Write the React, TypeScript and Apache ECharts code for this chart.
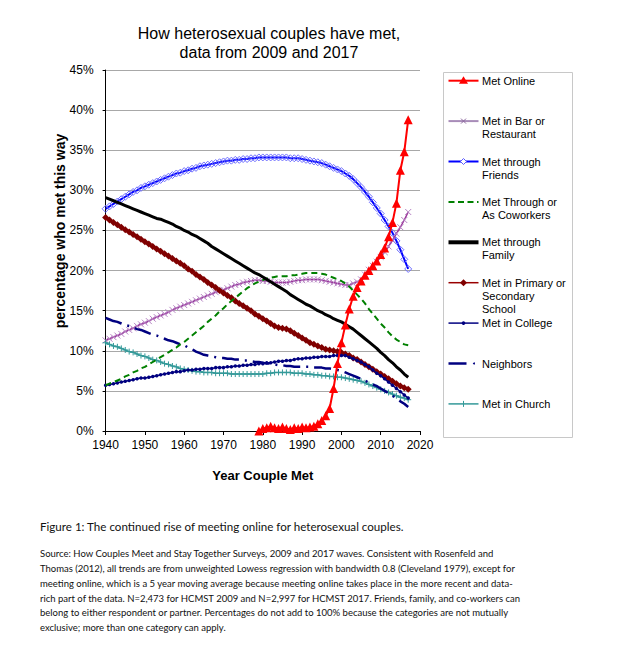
import React, { useEffect, useRef } from "react";
import * as echarts from "echarts";

// ---------- DATA ----------
const YEARS = Array.from({ length: 78 }, (_, i) => 1940 + i); // 1940..2017
const ONLINE_YEARS = Array.from({ length: 39 }, (_, i) => 1979 + i); // 1979..2017

const X_TICKS = [1940, 1950, 1960, 1970, 1980, 1990, 2000, 2010, 2020];
const Y_TICKS = [0, 5, 10, 15, 20, 25, 30, 35, 40, 45];

const onlineVals = [
  0.0, 0.3, 0.4, 0.6, 0.4, 0.3, 0.5, 0.3, 0.2, 0.4, 0.3,
  0.5, 0.4, 0.5, 0.6, 0.9, 1.3, 1.9, 2.8, 5.3, 8.4,
  11.0, 13.2, 15.2, 16.8, 17.9, 18.7, 19.4, 20.0, 20.6, 21.2,
  22.0, 22.8, 24.2, 26.0, 28.4, 32.5, 34.8, 38.8,
];

const barVals = [
  11.3, 11.5, 11.7, 11.9, 12.1, 12.4, 12.6, 12.8, 13.1, 13.3,
  13.5, 13.7, 14.0, 14.2, 14.4, 14.6, 14.8, 15.1, 15.3, 15.5,
  15.7, 15.9, 16.1, 16.3, 16.5, 16.7, 16.9, 17.1, 17.3, 17.5,
  17.6, 17.8, 18.0, 18.2, 18.3, 18.5, 18.6, 18.7, 18.8, 18.8,
  18.7, 18.7, 18.6, 18.5, 18.5, 18.5, 18.5, 18.6, 18.7, 18.8,
  18.8, 18.9, 18.9, 18.9, 18.9, 18.8, 18.7, 18.6, 18.5, 18.4,
  18.3, 18.2, 18.2, 18.4, 18.6, 18.9, 19.5, 20.1, 20.6, 21.1,
  21.7, 22.3, 23.0, 23.8, 24.6, 25.4, 26.3, 27.3,
];

const friendsVals = [
  27.7, 28.0, 28.3, 28.6, 28.9, 29.2, 29.5, 29.8, 30.0, 30.3,
  30.5, 30.7, 30.9, 31.1, 31.3, 31.5, 31.7, 31.9, 32.1, 32.2,
  32.4, 32.5, 32.7, 32.8, 33.0, 33.1, 33.2, 33.3, 33.4, 33.5,
  33.6, 33.7, 33.7, 33.8, 33.8, 33.9, 33.9, 34.0, 34.0, 34.1,
  34.1, 34.1, 34.1, 34.1, 34.1, 34.1, 34.1, 34.0, 34.0, 34.0,
  33.9, 33.8, 33.7, 33.6, 33.5, 33.4, 33.2, 33.0, 32.8, 32.6,
  32.4, 32.1, 31.8, 31.4, 30.9, 30.4, 29.8, 29.2, 28.5, 27.8,
  27.1, 26.3, 25.5, 24.7, 23.7, 22.6, 21.4, 20.2,
];

const coworkersVals = [
  5.7, 5.9, 6.1, 6.3, 6.5, 6.8, 7.0, 7.3, 7.5, 7.8,
  8.0, 8.3, 8.6, 8.9, 9.2, 9.5, 9.8, 10.1, 10.4, 10.8,
  11.1, 11.5, 11.9, 12.3, 12.7, 13.1, 13.6, 14.0, 14.4, 14.9,
  15.3, 15.8, 16.2, 16.6, 17.0, 17.4, 17.8, 18.1, 18.4, 18.6,
  18.8, 19.0, 19.1, 19.2, 19.3, 19.3, 19.3, 19.4, 19.4, 19.5,
  19.6, 19.7, 19.7, 19.7, 19.7, 19.6, 19.5, 19.3, 19.1, 18.9,
  18.7, 18.4, 18.0, 17.5, 17.0, 16.5, 15.9, 15.2, 14.6, 14.0,
  13.4, 12.9, 12.3, 11.8, 11.4, 11.1, 10.8, 10.7,
];

const familyVals = [
  29.1, 28.9, 28.7, 28.5, 28.3, 28.1, 27.9, 27.7, 27.5, 27.3,
  27.1, 26.9, 26.7, 26.5, 26.4, 26.2, 26.0, 25.8, 25.5, 25.3,
  25.0, 24.8, 24.5, 24.3, 24.0, 23.7, 23.4, 23.0, 22.7, 22.4,
  22.1, 21.8, 21.5, 21.2, 20.9, 20.6, 20.3, 20.0, 19.7, 19.5,
  19.2, 18.9, 18.6, 18.3, 18.0, 17.7, 17.4, 17.0, 16.7, 16.4,
  16.1, 15.8, 15.6, 15.3, 15.0, 14.8, 14.5, 14.3, 14.0, 13.8,
  13.6, 13.3, 13.0, 12.7, 12.3, 11.9, 11.5, 11.1, 10.7, 10.3,
  9.8, 9.4, 8.9, 8.5, 8.0, 7.6, 7.1, 6.7,
];

const schoolVals = [
  26.6, 26.3, 26.0, 25.7, 25.4, 25.1, 24.8, 24.5, 24.2, 23.9,
  23.6, 23.3, 23.0, 22.7, 22.4, 22.1, 21.8, 21.5, 21.2, 20.9,
  20.6, 20.2, 19.9, 19.5, 19.2, 18.9, 18.5, 18.2, 17.9, 17.5,
  17.2, 16.9, 16.6, 16.2, 15.9, 15.6, 15.3, 15.0, 14.6, 14.3,
  14.0, 13.7, 13.4, 13.1, 12.9, 12.8, 12.7, 12.5, 12.2, 11.9,
  11.6, 11.3, 11.0, 10.8, 10.6, 10.4, 10.2, 10.1, 10.0, 9.9,
  9.8, 9.6, 9.4, 9.1, 8.9, 8.6, 8.3, 8.0, 7.7, 7.4,
  7.1, 6.8, 6.5, 6.2, 5.9, 5.6, 5.4, 5.2,
];

const collegeVals = [
  5.7, 5.8, 5.9, 6.0, 6.1, 6.2, 6.3, 6.4, 6.5, 6.6,
  6.6, 6.7, 6.8, 6.9, 7.0, 7.1, 7.2, 7.3, 7.4, 7.4,
  7.5, 7.6, 7.6, 7.7, 7.7, 7.8, 7.8, 7.8, 7.9, 7.9,
  7.9, 8.0, 8.0, 8.1, 8.1, 8.2, 8.2, 8.3, 8.3, 8.4,
  8.4, 8.5, 8.5, 8.6, 8.7, 8.7, 8.8, 8.8, 8.9, 9.0,
  9.0, 9.1, 9.1, 9.2, 9.2, 9.3, 9.3, 9.3, 9.4, 9.4,
  9.4, 9.4, 9.2, 9.0, 8.8, 8.6, 8.3, 8.0, 7.6, 7.2,
  6.9, 6.5, 6.1, 5.7, 5.3, 4.9, 4.5, 4.1,
];

const neighborsVals = [
  14.1, 13.9, 13.7, 13.6, 13.4, 13.2, 13.1, 12.9, 12.7, 12.6,
  12.4, 12.2, 12.0, 11.9, 11.7, 11.5, 11.3, 11.2, 11.0, 10.8,
  10.7, 10.4, 10.2, 9.9, 9.7, 9.5, 9.4, 9.3, 9.2, 9.1,
  9.1, 9.0, 9.0, 8.9, 8.9, 8.8, 8.8, 8.7, 8.6, 8.6,
  8.5, 8.4, 8.4, 8.3, 8.2, 8.2, 8.1, 8.1, 8.0, 8.0,
  8.0, 8.0, 8.0, 7.9, 7.9, 7.9, 7.8, 7.8, 7.7, 7.6,
  7.5, 7.3, 7.1, 6.9, 6.7, 6.5, 6.3, 6.0, 5.8, 5.6,
  5.3, 5.0, 4.7, 4.4, 4.1, 3.7, 3.4, 3.0,
];

const churchVals = [
  11.0, 10.8, 10.6, 10.5, 10.3, 10.1, 9.9, 9.8, 9.6, 9.4,
  9.3, 9.1, 8.9, 8.8, 8.6, 8.4, 8.3, 8.1, 8.0, 7.8,
  7.7, 7.6, 7.5, 7.4, 7.4, 7.3, 7.3, 7.3, 7.2, 7.2,
  7.2, 7.2, 7.1, 7.1, 7.1, 7.1, 7.1, 7.1, 7.1, 7.1,
  7.1, 7.2, 7.2, 7.3, 7.3, 7.3, 7.3, 7.3, 7.2, 7.2,
  7.2, 7.1, 7.1, 7.0, 7.0, 6.9, 6.9, 6.8, 6.8, 6.7,
  6.7, 6.6, 6.5, 6.4, 6.3, 6.2, 6.0, 5.8, 5.6, 5.4,
  5.2, 5.0, 4.8, 4.6, 4.4, 4.2, 4.1, 3.9,
];

const SERIES_NAMES = [
  "Met Online",
  "Met in Bar or Restaurant",
  "Met through Friends",
  "Met Through or As Coworkers",
  "Met through Family",
  "Met in Primary or Secondary School",
  "Met in College",
  "Neighbors",
  "Met in Church",
];

const LEGEND_LABELS = [
  ["Met Online"],
  ["Met in Bar or", "Restaurant"],
  ["Met through", "Friends"],
  ["Met Through or", "As Coworkers"],
  ["Met through", "Family"],
  ["Met in Primary or", "Secondary", "School"],
  ["Met in College"],
  ["Neighbors"],
  ["Met in Church"],
];

const TITLE_LINES = ["How heterosexual couples have met,", "data from 2009 and 2017"];
const X_NAME = "Year Couple Met";
const Y_NAME = "percentage who met this way";
const CAPTION = "Figure 1: The continued rise of meeting online for heterosexual couples.";
const SOURCE_LINES = [
  "Source: How Couples Meet and Stay Together Surveys, 2009 and 2017 waves. Consistent with Rosenfeld and",
  "Thomas (2012), all trends are from unweighted Lowess regression with bandwidth 0.8 (Cleveland 1979), except for",
  "meeting online, which is a 5 year moving average because meeting online takes place in the more recent and data-",
  "rich part of the data. N=2,473 for HCMST 2009 and N=2,997 for HCMST 2017. Friends, family, and co-workers can",
  "belong to either respondent or partner. Percentages do not add to 100% because the categories are not mutually",
  "exclusive; more than one category can apply.",
];

// ---------- helpers ----------
const pairs = (xs: number[], ys: number[]) => ys.map((y, i) => [xs[i], y]);

const FONT = "'Liberation Sans', Arial, sans-serif";
const CAP_FONT = "Lato, 'Open Sans', sans-serif";

const X_SYMBOL = "path://M0,0L10,10M10,0L0,10";
const PLUS_SYMBOL = "path://M5,0L5,10M0,5L10,5";

function buildOption() {
  const base = {
    type: "line",
    smooth: false,
    showAllSymbol: true,
    silent: true,
    emphasis: { disabled: true },
  };

  const series: any[] = [
    {
      ...base,
      name: SERIES_NAMES[2],
      data: pairs(YEARS, friendsVals),
      symbol: "diamond",
      symbolSize: 7,
      lineStyle: { color: "#0000ff", width: 2 },
      itemStyle: { color: "rgba(255,255,255,0)", borderColor: "#6e6eff", borderWidth: 1 },
      z: 2,
    },
    {
      ...base,
      name: SERIES_NAMES[1],
      data: pairs(YEARS, barVals),
      symbol: X_SYMBOL,
      symbolSize: 6,
      lineStyle: { color: "#993399", width: 1.5 },
      itemStyle: { color: "rgba(0,0,0,0)", borderColor: "#b784c4", borderWidth: 1 },
      z: 3,
    },
    {
      ...base,
      name: SERIES_NAMES[5],
      data: pairs(YEARS, schoolVals),
      symbol: "diamond",
      symbolSize: 7,
      lineStyle: { color: "#800000", width: 2 },
      itemStyle: { color: "#800000", borderWidth: 0 },
      z: 4,
    },
    {
      ...base,
      name: SERIES_NAMES[8],
      data: pairs(YEARS, churchVals),
      symbol: PLUS_SYMBOL,
      symbolSize: 6,
      lineStyle: { color: "#339999", width: 1.5 },
      itemStyle: { color: "rgba(0,0,0,0)", borderColor: "#339999", borderWidth: 1 },
      z: 5,
    },
    {
      ...base,
      name: SERIES_NAMES[7],
      data: pairs(YEARS, neighborsVals),
      symbol: "none",
      lineStyle: { color: "#000080", width: 2.5, type: [17, 6, 2, 6] },
      z: 6,
    },
    {
      ...base,
      name: SERIES_NAMES[6],
      data: pairs(YEARS, collegeVals),
      symbol: "circle",
      symbolSize: 3.5,
      lineStyle: { color: "#000080", width: 1.5 },
      itemStyle: { color: "#000080", borderWidth: 0 },
      z: 7,
    },
    {
      ...base,
      name: SERIES_NAMES[3],
      data: pairs(YEARS, coworkersVals),
      symbol: "none",
      lineStyle: { color: "#008000", width: 2, type: [6, 4] },
      z: 8,
    },
    {
      ...base,
      name: SERIES_NAMES[4],
      data: pairs(YEARS, familyVals),
      symbol: "none",
      lineStyle: { color: "#000000", width: 3 },
      z: 9,
    },
    {
      ...base,
      name: SERIES_NAMES[0],
      data: pairs(ONLINE_YEARS, onlineVals),
      symbol: "triangle",
      symbolSize: 9,
      lineStyle: { color: "#ff0000", width: 2 },
      itemStyle: { color: "#ff0000", borderWidth: 0 },
      z: 10,
    },
  ];

  // ----- legend drawn with graphic -----
  const lgLeft = 435.5;
  const lgTop = 64.5;
  const lineX1 = 440.5;
  const lineX2 = 470.5;
  const cx = (lineX1 + lineX2) / 2;
  const textX = 474;
  const rowY = (i: number) => 72.7 + i * 40.4;
  const lineH = 13;

  const legendEls: any[] = [
    {
      type: "rect",
      shape: { x: lgLeft, y: lgTop, width: 129, height: 365 },
      style: { fill: "#ffffff", stroke: "#c8c8c8", lineWidth: 1 },
    },
  ];
  const lineStyles: any[] = [
    { stroke: "#ff0000", lineWidth: 2 },
    { stroke: "#a88cb8", lineWidth: 2 },
    { stroke: "#0000ff", lineWidth: 2 },
    { stroke: "#008000", lineWidth: 2, lineDash: [6, 3.5] },
    { stroke: "#000000", lineWidth: 4 },
    { stroke: "#990000", lineWidth: 1.5 },
    { stroke: "#000080", lineWidth: 1.5 },
    null,
    { stroke: "#339999", lineWidth: 1.5 },
  ];
  LEGEND_LABELS.forEach((lines, i) => {
    const y = rowY(i);
    if (i === 7) {
      legendEls.push({
        type: "line",
        shape: { x1: lineX1, y1: y, x2: 458.5, y2: y },
        style: { stroke: "#000080", lineWidth: 2.5 },
      });
      legendEls.push({
        type: "circle",
        shape: { cx: 466, cy: y, r: 1 },
        style: { fill: "#000080" },
      });
    } else {
      legendEls.push({
        type: "line",
        shape: { x1: lineX1, y1: y, x2: lineX2, y2: y },
        style: lineStyles[i],
      });
    }
    if (i === 0) {
      legendEls.push({
        type: "polygon",
        shape: { points: [[cx, y - 4.5], [cx - 4.5, y + 3], [cx + 4.5, y + 3]] },
        style: { fill: "#ff0000" },
      });
    } else if (i === 1) {
      legendEls.push({ type: "line", shape: { x1: cx - 2.5, y1: y - 2.5, x2: cx + 2.5, y2: y + 2.5 }, style: { stroke: "#8e6aa0", lineWidth: 1 } });
      legendEls.push({ type: "line", shape: { x1: cx - 2.5, y1: y + 2.5, x2: cx + 2.5, y2: y - 2.5 }, style: { stroke: "#8e6aa0", lineWidth: 1 } });
    } else if (i === 2) {
      legendEls.push({
        type: "polygon",
        shape: { points: [[cx, y - 3], [cx + 3, y], [cx, y + 3], [cx - 3, y]] },
        style: { fill: "#ffffff", stroke: "#5a5aff", lineWidth: 1 },
      });
    } else if (i === 5) {
      legendEls.push({
        type: "polygon",
        shape: { points: [[cx, y - 3.5], [cx + 3.5, y], [cx, y + 3.5], [cx - 3.5, y]] },
        style: { fill: "#800000" },
      });
    } else if (i === 6) {
      legendEls.push({ type: "circle", shape: { cx, cy: y, r: 1.8 }, style: { fill: "#000080" } });
    } else if (i === 8) {
      legendEls.push({ type: "line", shape: { x1: cx, y1: y - 3, x2: cx, y2: y + 3 }, style: { stroke: "#339999", lineWidth: 1 } });
    }
    lines.forEach((t, k) => {
      legendEls.push({
        type: "text",
        x: textX,
        y: y + k * lineH,
        style: {
          text: t,
          fill: "#000000",
          font: `11px ${FONT}`,
          align: "left",
          verticalAlign: "middle",
        },
      });
    });
  });

  const titleEls = TITLE_LINES.map((t, i) => ({
    type: "text",
    x: 261,
    y: 25.5 + i * 19.4,
    style: {
      text: t,
      fill: "#000000",
      font: `16px ${FONT}`,
      align: "center",
      verticalAlign: "middle",
    },
  }));

  const yNameEl = {
    type: "text",
    x: 52,
    y: 223,
    rotation: Math.PI / 2,
    style: {
      text: Y_NAME,
      fill: "#000000",
      font: `bold 14px ${FONT}`,
      align: "center",
      verticalAlign: "middle",
    },
  };

  const captionEls: any[] = [
    {
      type: "text",
      x: 32,
      y: 518.7,
      style: {
        text: CAPTION,
        fill: "#111111",
        font: `11.6px ${CAP_FONT}`,
        align: "left",
        verticalAlign: "middle",
      },
    },
    ...SOURCE_LINES.map((t, i) => ({
      type: "text",
      x: 32,
      y: 545.3 + i * 14.9,
      style: {
        text: t,
        fill: "#111111",
        font: `9.5px ${CAP_FONT}`,
        align: "left",
        verticalAlign: "middle",
      },
    })),
  ];

  return {
    animation: false,
    backgroundColor: "#ffffff",
    textStyle: { fontFamily: FONT },
    grid: { left: 97.6, top: 62, width: 314.4, height: 361, containLabel: false },
    xAxis: {
      type: "value",
      min: X_TICKS[0],
      max: X_TICKS[X_TICKS.length - 1],
      interval: X_TICKS[1] - X_TICKS[0],
      name: X_NAME,
      nameLocation: "middle",
      nameGap: 38,
      nameTextStyle: { fontFamily: FONT, fontSize: 13, fontWeight: "bold", color: "#000" },
      axisLine: { show: true, lineStyle: { color: "#000", width: 1 } },
      axisTick: { show: true, length: 4, lineStyle: { color: "#000" } },
      axisLabel: {
        margin: 8,
        fontFamily: FONT,
        fontSize: 12,
        color: "#000",
        formatter: (v: number) => String(v),
      },
      splitLine: { show: false },
    },
    yAxis: {
      type: "value",
      min: Y_TICKS[0],
      max: Y_TICKS[Y_TICKS.length - 1],
      interval: Y_TICKS[1] - Y_TICKS[0],
      axisLine: { show: true, lineStyle: { color: "#000", width: 1 } },
      axisTick: { show: true, length: 3, lineStyle: { color: "#000" } },
      axisLabel: {
        margin: 12,
        fontFamily: FONT,
        fontSize: 12,
        color: "#000",
        formatter: "{value}%",
      },
      splitLine: { show: true, lineStyle: { color: "#a8a8a8", width: 1 } },
    },
    series,
    graphic: [...titleEls, yNameEl, ...legendEls, ...captionEls],
  };
}

export default function App() {
  const ref = useRef<HTMLDivElement>(null);
  useEffect(() => {
    if (!ref.current) return;
    const chart = echarts.init(ref.current, null, { renderer: "svg" });
    chart.setOption(buildOption() as any);
    return () => chart.dispose();
  }, []);
  return <div ref={ref} style={{ width: 604, height: 631 }} />;
}
